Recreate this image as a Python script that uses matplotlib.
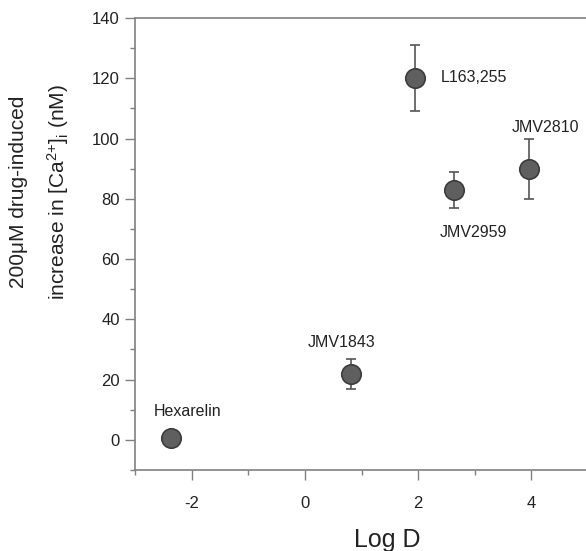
import matplotlib
matplotlib.use("Agg")
import matplotlib.pyplot as plt
from matplotlib.ticker import MultipleLocator

plt.rcParams['font.family'] = ['Liberation Sans', 'DejaVu Sans']
plt.rcParams['axes.unicode_minus'] = False
plt.rcParams['mathtext.fontset'] = 'custom'
plt.rcParams['mathtext.rm'] = 'Liberation Sans'
plt.rcParams['mathtext.it'] = 'Liberation Sans:italic'

names = ["Hexarelin", "JMV1843", "L163,255", "JMV2959", "JMV2810"]
log_d = [-2.36, 0.82, 1.95, 2.63, 3.95]
ca_increase = [0.5, 22, 120, 83, 90]
err = [0, 5, 11, 6, 10]
# where each name sits (data coords)
label_x = [-2.08, 0.64, 2.40, 2.97, 4.25]
label_y = [9.3, 32.3, 120.4, 68.8, 103.8]
label_ha = ["center", "center", "left", "center", "center"]

fig = plt.figure(figsize=(5.86, 5.51), dpi=100)
ax = fig.add_axes([135 / 586, 1 - 470 / 551, (588 - 135) / 586, 452 / 551])

ax.errorbar(log_d, ca_increase, yerr=err, fmt="none", ecolor="#555555",
            elinewidth=1.2, capsize=3.7, capthick=1.2, zorder=2)
ax.plot(log_d, ca_increase, "o", ms=14, mfc="#5f5f5f", mec="#3c3c3c",
        mew=1.2, zorder=3)

for n, x, y, ha in zip(names, label_x, label_y, label_ha):
    ax.text(x, y, n, ha=ha, va="center", fontsize=11.5, color="#222222")

ax.set_xlim(-3, 5)
ax.set_ylim(-10, 140)
ax.xaxis.set_major_locator(MultipleLocator(2))
ax.xaxis.set_minor_locator(MultipleLocator(1))
ax.yaxis.set_major_locator(MultipleLocator(20))
ax.yaxis.set_minor_locator(MultipleLocator(10))
ax.set_xticks([-2, 0, 2, 4])
ax.set_yticks(range(0, 141, 20))

for s in ["left", "top", "bottom"]:
    ax.spines[s].set_color("#808080")
    ax.spines[s].set_linewidth(1.2)
ax.spines["right"].set_visible(False)

ax.tick_params(which="major", direction="out", length=7, width=1, color="#808080",
               labelsize=12, labelcolor="#222222", pad=4)
ax.tick_params(which="minor", direction="out", length=3.5, width=1, color="#808080")
ax.tick_params(axis="x", pad=12)

ax.set_xlabel("Log D", fontsize=18, color="#222222", va="center")
ax.xaxis.set_label_coords(0.556, -0.155)
ax.set_ylabel("200\u03bcM drug-induced\nincrease in [Ca$^{2{+}}$]$_{\\mathrm{i}}$ (nM)",
              fontsize=15, linespacing=1.9, color="#222222", va="center")
ax.yaxis.set_label_coords(-0.210, 0.615)

fig.savefig("out.png", dpi=100)
